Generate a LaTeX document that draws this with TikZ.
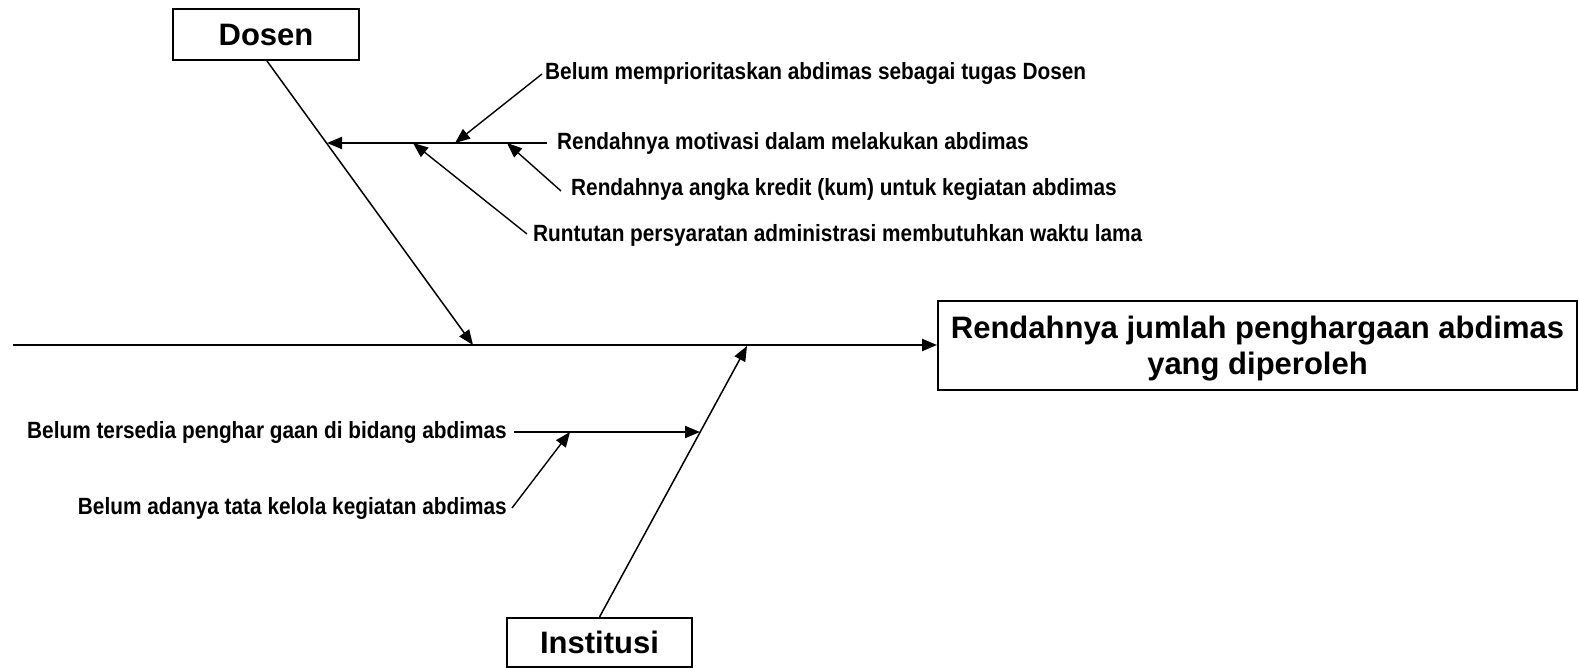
\documentclass[tikz,border=0pt]{standalone}
\usepackage{fontspec}
\setmainfont{Liberation Sans}
\usetikzlibrary{arrows.meta}

% narrow bold labels for the causes
\newcommand{\causetext}[1]{\scalebox{0.885}[1]{#1}}

\tikzset{
  tip/.style={-{Triangle[length=15pt,width=12pt]}},
  bigfont/.style={font=\fontsize{31}{36.5}\selectfont\bfseries},
  bigbox/.style={draw, line width=2pt, inner sep=0pt, align=center, bigfont},
  cause/.style={inner sep=0pt, font=\fontsize{23.5}{28}\selectfont\bfseries},
  spine/.style={line width=2.3pt, tip},
  bone/.style={line width=1.5pt, tip},
  subbone/.style={line width=2pt, tip},
  twig/.style={line width=1.4pt, tip},
}

\begin{document}
\begin{tikzpicture}[x=1pt, y=-1pt]
  \useasboundingbox (0,0) rectangle (1579,668);

  % category and effect boxes
  \node[bigbox, minimum width=186pt, minimum height=51pt] (dosen) at (266,34.5) {Dosen};
  \node[bigbox, minimum width=185pt, minimum height=49pt] (inst) at (599.5,642.5) {Institusi};
  \node[bigbox, minimum width=639pt, minimum height=89pt] (effect) at (1257.5,345.5) {};
  \node[bigfont, align=center, inner sep=0pt] (effecttext) at ([yshift=-3pt]effect.center)
    {Rendahnya jumlah penghargaan abdimas\\yang diperoleh};

  % main spine
  \coordinate (tail) at (13,345);
  \draw[spine] (tail) -- (effect.west |- tail);

  % Dosen bone
  \coordinate (dtip) at (473,345);
  \draw[bone] (dosen.south -| 267,0) -- (dtip);

  % Dosen causes
  \node[cause, anchor=west] (c1) at (545,73) {\causetext{Belum memprioritaskan abdimas sebagai tugas Dosen}};
  \node[cause, anchor=west] (c2) at (557,143) {\causetext{Rendahnya motivasi dalam melakukan abdimas}};
  \node[cause, anchor=west] (c3) at (571,189) {\causetext{Rendahnya angka kredit (kum) untuk kegiatan abdimas}};
  \node[cause, anchor=west] (c4) at (533,235) {\causetext{Runtutan persyaratan administrasi membutuhkan waktu lama}};

  \coordinate (c2end) at (547,143);
  \coordinate (c2tip) at (327,143);
  \draw[subbone] (c2end) -- (c2tip);

  \coordinate (c1start) at (542,74);
  \coordinate (c1tip) at (455,143);
  \draw[twig] (c1start) -- (c1tip);

  \coordinate (c3start) at (561,191);
  \coordinate (c3tip) at (507,143);
  \draw[twig] (c3start) -- (c3tip);

  \coordinate (c4start) at (527,234);
  \coordinate (c4tip) at (413,143);
  \draw[twig] (c4start) -- (c4tip);

  % Institusi bone
  \coordinate (itip) at (747,346);
  \draw[bone] (inst.north) -- (itip);

  % Institusi causes
  \node[cause, anchor=east] (c5) at (507,432) {\causetext{Belum tersedia penghar gaan di bidang abdimas}};
  \node[cause, anchor=east] (c6) at (507,508) {\causetext{Belum adanya tata kelola kegiatan abdimas}};

  \coordinate (c5start) at (514,432);
  \coordinate (c5tip) at (700,432);
  \draw[subbone] (c5start) -- (c5tip);

  \coordinate (c6start) at (512,508);
  \coordinate (c6tip) at (570,432);
  \draw[twig] (c6start) -- (c6tip);
\end{tikzpicture}
\end{document}
